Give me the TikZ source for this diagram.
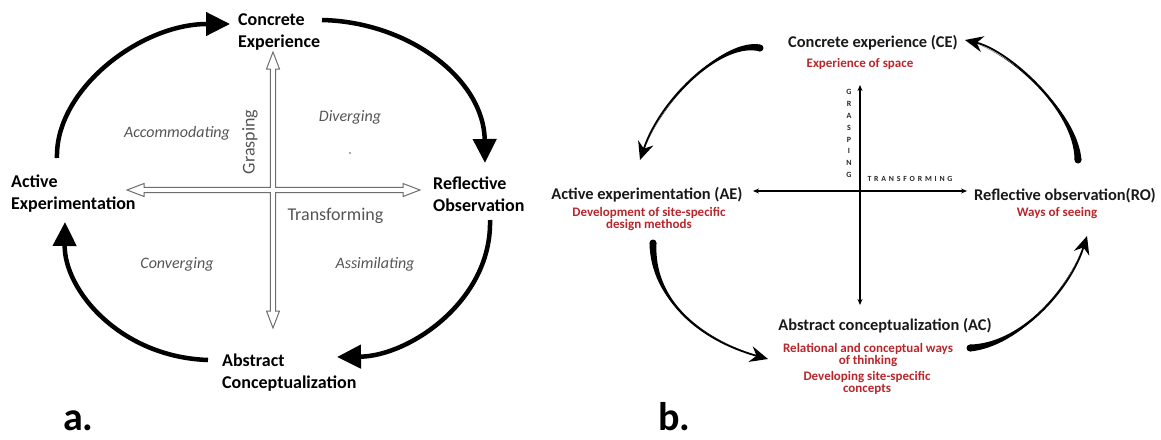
\documentclass[tikz,border=0pt]{standalone}
\usepackage{fontspec}
\setmainfont{Carlito}
\usetikzlibrary{arrows.meta,calc}
\definecolor{redtxt}{HTML}{B8262B}
\definecolor{axgray}{HTML}{6E6E6E}
\definecolor{txtgray}{HTML}{555555}
\begin{document}
\begin{tikzpicture}[x=1pt,y=-1pt,
 stageA/.style={font=\fontsize{18}{22}\selectfont\bfseries, align=left, inner sep=0pt, anchor=west},
 quad/.style={font=\fontsize{16}{18}\selectfont\itshape, text=txtgray, inner sep=0pt},
 axlab/.style={font=\fontsize{18}{20}\selectfont, text=txtgray, inner sep=0pt},
 bigarc/.style={line width=4.5pt, -{Triangle[length=24pt,width=23pt]}},
 stageB/.style={font=\fontsize{16.4}{20}\selectfont\bfseries, text=black!90, inner sep=0pt},
 note/.style={font=\fontsize{13}{12}\selectfont\bfseries, text=redtxt, align=center, inner sep=0pt},
 baxis/.style={line width=1.1pt, {Stealth[length=6pt,width=5pt]}-{Stealth[length=6pt,width=5pt]}},
 swoosh/.style={line width=1.8pt, -{Stealth[length=18pt,width=16pt,inset=6pt]}},
 panel/.style={font=\fontsize{40}{42}\selectfont\bfseries, inner sep=0pt, anchor=base west},
]
\useasboundingbox (0,0) rectangle (1161,439);

% ---------------- panel a ----------------
\node[stageA] (ceA) at (238,32) {Concrete\\Experience};
\node[stageA] (aeA) at (11,194) {Active\\Experimentation};
\node[stageA] (roA) at (433,194) {Reflective\\Observation};
\node[stageA] (acA) at (222,373) {Abstract\\Conceptualization};

% axes (double outline cross)
\coordinate (OA) at (273,190);
\begin{scope}[shift={(OA)}]
\draw[axgray, line width=1pt, fill=white, line join=miter]
 (0,-138) -- (6.5,-121) -- (2.6,-121) -- (2.6,-2.6) -- (130,-2.6) -- (130,-6.5) -- (147,0)
 -- (130,6.5) -- (130,2.6) -- (2.6,2.6) -- (2.6,121) -- (6.5,121) -- (0,138) -- (-6.5,121)
 -- (-2.6,121) -- (-2.6,2.6) -- (-129,2.6) -- (-129,6.5) -- (-146,0) -- (-129,-6.5)
 -- (-129,-2.6) -- (-2.6,-2.6) -- (-2.6,-121) -- (-6.5,-121) -- cycle;
\end{scope}

\node[axlab, rotate=90] (grasping) at (250,142) {Grasping};
\node[axlab] (transforming) at (335.5,216) {Transforming};
\node[quad] (accom) at (177,133) {Accommodating};
\node[quad] (diver) at (350,117) {Diverging};
\node[quad] (conver) at (177,264) {Converging};
\node[quad] (assim) at (375,264) {Assimilating};
\fill[txtgray] (350,153) circle (0.8);

% cycle arcs
\coordinate (a1s) at (57,158);  \coordinate (a1e) at (230,24);
\coordinate (a2s) at (322,20);  \coordinate (a2e) at (485,163);
\coordinate (a3s) at (490,220); \coordinate (a3e) at (337,357);
\coordinate (a4s) at (208,360); \coordinate (a4e) at (65,222);
\draw[bigarc] (a1s) .. controls (55,90) and (140,24) .. (a1e);
\draw[bigarc] (a2s) .. controls (410,22) and (484,80) .. (a2e);
\draw[bigarc] (a3s) .. controls (492,300) and (410,356) .. (a3e);
\draw[bigarc] (a4s) .. controls (120,357) and (64,290) .. (a4e);

\node[panel] (labA) at (63,430) {a.};

% ---------------- panel b ----------------
\node[stageB] (ceB) at (873,43) {Concrete experience (CE)};
\node[note] (ceN) at (860,64) {Experience of space};
\node[stageB] (aeB) at (647,195) {Active experimentation (AE)};
\node[note] (aeN) at (649,219) {Development of site-specific\\design methods};
\node[stageB] (roB) at (1065,196) {Reflective observation(RO)};
\node[note] (roN) at (1057,213) {Ways of seeing};
\node[stageB] (acB) at (885,326) {Abstract conceptualization (AC)};
\node[note] (acN1) at (868,355) {Relational and conceptual ways\\of thinking};
\node[note] (acN2) at (867,383) {Developing site-specific\\concepts};

% axes
\coordinate (vtop) at (860,85);  \coordinate (vbot) at (860,305);
\coordinate (hl) at (753,191);   \coordinate (hr) at (967,191);
\draw[baxis] (vbot) -- (vtop);
\draw[baxis] (hl) -- (hr);
\node[font=\fontsize{8}{11.9}\selectfont\bfseries, align=center, inner sep=0pt, text=black!85] (grasp) at (849,133.5) {G\\R\\A\\S\\P\\I\\N\\G};
\node[font=\fontsize{7.8}{9}\selectfont\bfseries\addfontfeature{LetterSpace=36}, inner sep=0pt, text=black!85] (transf) at (910,179) {TRANSFORMING};

% swoosh arrows
% 1: CE -> AE
\coordinate (s1) at (760,48); \coordinate (s1a) at (725,40); \coordinate (s1b) at (662,95); \coordinate (s1t) at (640,160);
\fill ($(s1)+(0,3.5)$) .. controls ($(s1a)+(0,1.5)$) and (s1b) .. (s1t) .. controls (s1b) and ($(s1a)-(0,1.5)$) .. ($(s1)-(0,3.5)$) -- cycle;
\fill (s1) circle (3.5);
\draw[swoosh] (s1) .. controls (s1a) and (s1b) .. (s1t);
% 2: RO -> CE
\coordinate (s2) at (1078,160); \coordinate (s2a) at (1076,110); \coordinate (s2b) at (1008,50); \coordinate (s2t) at (965,40);
\fill ($(s2)+(3.5,0)$) .. controls ($(s2a)+(1.5,0)$) and (s2b) .. (s2t) .. controls (s2b) and ($(s2a)-(1.5,0)$) .. ($(s2)-(3.5,0)$) -- cycle;
\fill (s2) circle (3.5);
\draw[swoosh] (s2) .. controls (s2a) and (s2b) .. (s2t);
% 3: AE -> AC
\coordinate (s3) at (653,243); \coordinate (s3a) at (652,300); \coordinate (s3b) at (700,340); \coordinate (s3t) at (768,359);
\fill ($(s3)+(3.5,0)$) .. controls ($(s3a)+(1.5,0)$) and (s3b) .. (s3t) .. controls (s3b) and ($(s3a)-(1.5,0)$) .. ($(s3)-(3.5,0)$) -- cycle;
\fill (s3) circle (3.5);
\draw[swoosh] (s3) .. controls (s3a) and (s3b) .. (s3t);
% 4: AC -> RO
\coordinate (s4) at (970,348); \coordinate (s4a) at (1020,345); \coordinate (s4b) at (1070,290); \coordinate (s4t) at (1087,236);
\fill ($(s4)+(0,3.5)$) .. controls ($(s4a)+(0,1.5)$) and (s4b) .. (s4t) .. controls (s4b) and ($(s4a)-(0,1.5)$) .. ($(s4)-(0,3.5)$) -- cycle;
\fill (s4) circle (3.5);
\draw[swoosh] (s4) .. controls (s4a) and (s4b) .. (s4t);

\node[panel] (labB) at (658,430) {b.};
\end{tikzpicture}
\end{document}
